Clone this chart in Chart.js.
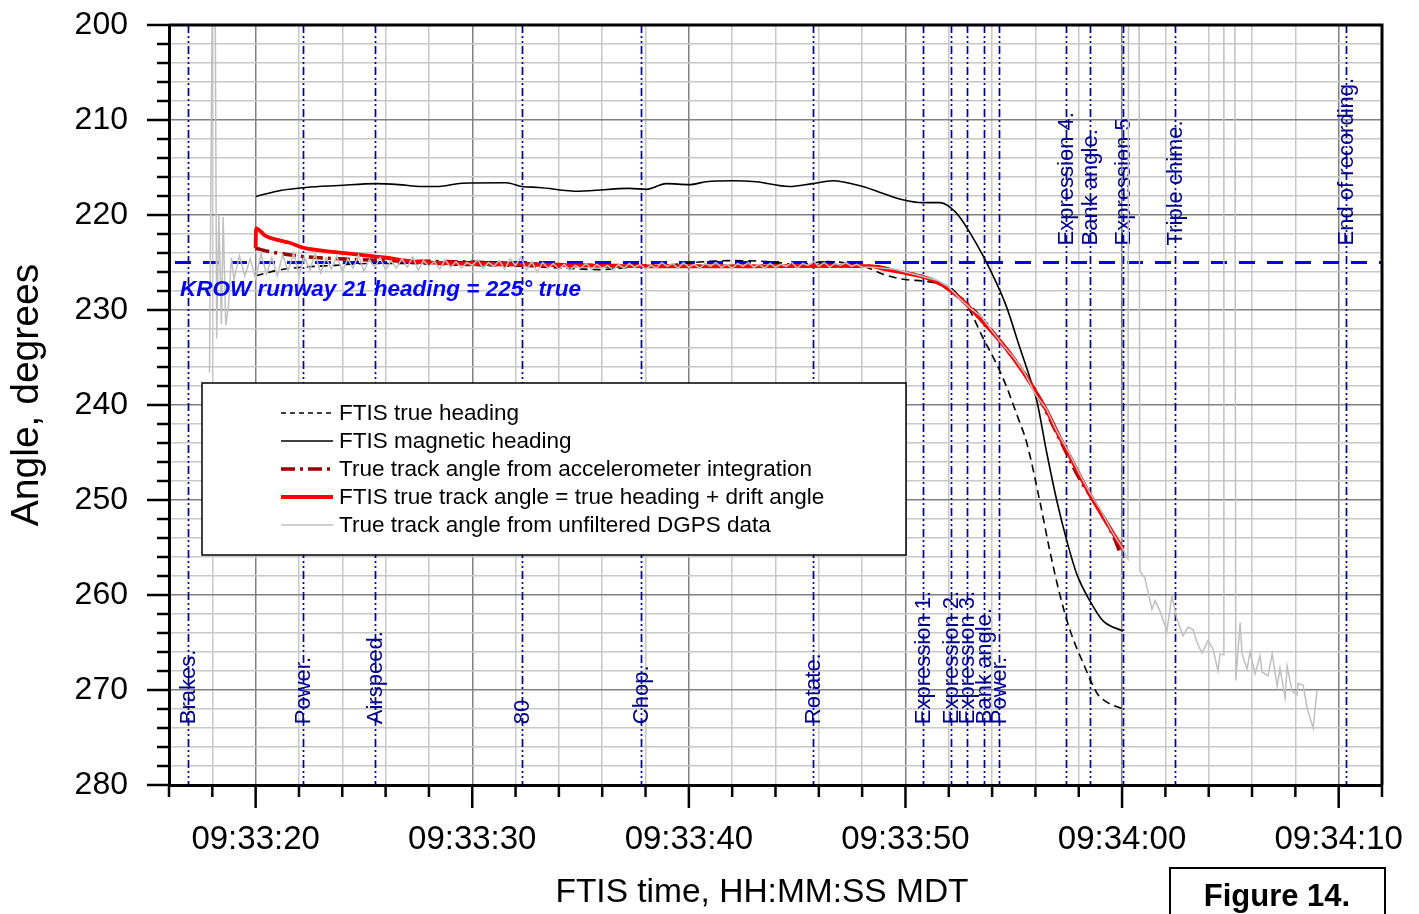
<!DOCTYPE html>
<html>
<head>
<meta charset="utf-8">
<title>Heading and track angle</title>
<script src="https://cdn.jsdelivr.net/npm/chart.js@4.4.1/dist/chart.umd.min.js"></script>
<style>
    html, body { margin: 0; padding: 0; background: #fff; }
    #wrap { width: 1419px; height: 914px; }
</style>
</head>
<body>
<div id="wrap"><canvas id="chart" width="1419" height="914"></canvas></div>
<script>
// Time is in seconds after 09:33:00 MDT, angles in degrees

const trueHeadingTime = [20.0, 21.06, 22.13, 23.7, 25.22, 26.61, 29.71, 32.3, 34.33, 35.86, 37.38, 38.95, 40.48, 42.0, 43.57, 45.1, 46.35, 47.41, 48.2, 48.94, 49.73, 51.12, 52.04, 52.5, 52.96, 53.56, 54.21, 54.67, 55.14, 55.6, 56.2, 56.66, 57.12, 57.61, 58.21, 58.86, 59.32, 60.04];
const trueHeading = [226.4, 225.8, 225.5, 225.3, 225.1, 225.1, 225.3, 225.4, 225.6, 225.75, 225.5, 225.3, 224.95, 224.8, 224.9, 225.2, 224.9, 225.1, 225.5, 226.2, 226.7, 227.05, 227.6, 228.6, 230.0, 232.85, 235.7, 238.1, 241.0, 244.0, 250.1, 255.3, 259.9, 263.8, 267.2, 270.4, 271.3, 272.0];

const magTime = [20.0, 21.2, 22.31, 23.84, 25.55, 26.61, 27.67, 28.46, 29.52, 31.56, 32.3, 33.08, 34.93, 37.24, 38.03, 38.95, 40.02, 40.8, 42.0, 43.11, 44.64, 45.7, 46.63, 48.02, 48.8, 49.87, 50.79, 51.58, 52.04, 52.5, 52.96, 53.56, 54.21, 54.67, 55.27, 55.74, 56.06, 56.52, 56.99, 57.45, 57.91, 58.51, 59.11, 60.04];
const magHeading = [218.05, 217.4, 217.1, 216.9, 216.7, 216.8, 217.0, 217.0, 216.65, 216.6, 217.0, 217.1, 217.5, 217.2, 217.3, 216.7, 216.8, 216.5, 216.4, 216.5, 217.0, 216.7, 216.4, 217.0, 217.6, 218.4, 218.7, 218.7, 219.15, 220.2, 221.8, 224.2, 227.2, 229.7, 233.9, 237.1, 239.5, 245.0, 250.1, 254.3, 257.8, 260.6, 262.7, 263.8];

const accelTime = [20.0, 20.74, 22.3, 23.8, 26.1, 30.0, 32.0, 36.0, 42.0, 48.5, 49.7, 50.8, 52.0, 53.4, 54.2, 55.9, 57.1, 58.0, 58.8, 59.6, 59.95];
const accelTrack = [223.5, 223.9, 224.4, 224.6, 224.8, 224.95, 225.1, 225.3, 225.4, 225.4, 225.95, 226.5, 227.8, 230.6, 232.8, 238.1, 243.5, 247.6, 250.5, 253.8, 255.8];

const trackTime = [20.0, 20.02, 20.46, 21.06, 21.53, 22.13, 23.05, 24.44, 26.01, 27.07, 28.46, 31.56, 34.5, 38.2, 42.8, 46.5, 48.5, 48.94, 49.73, 50.79, 51.58, 52.04, 52.64, 53.43, 54.21, 54.95, 55.88, 56.52, 57.12, 57.45, 58.51, 60.04];
const trackAngle = [223.5, 221.4, 222.2, 222.65, 222.9, 223.4, 223.75, 224.1, 224.5, 224.85, 225.05, 225.2, 225.3, 225.4, 225.4, 225.35, 225.4, 225.65, 226.0, 226.5, 227.2, 227.9, 229.0, 230.9, 232.85, 234.96, 238.1, 240.6, 243.4, 244.8, 249.4, 255.2];

// unfiltered DGPS track: dropouts read as 190 (off the top of the scale)
const dgpsTime = [17.87, 18.02, 18.12, 18.2, 18.3, 18.42, 18.5, 18.62, 18.75, 18.88,
    19.0, 19.25, 19.5, 19.75, 20.0, 20.25, 20.5, 20.75, 21.0, 21.25, 21.5, 21.75, 22.0, 22.25, 22.5, 22.75,
    23.0, 23.25, 23.5, 23.75, 24.0, 24.25, 24.5, 24.75, 25.0, 25.25, 25.5, 25.75, 26.0, 26.25, 26.5, 26.75,
    27.0, 27.25, 27.5, 27.75, 28.0, 28.25, 28.5, 28.75, 29.0, 29.25, 29.5, 29.75, 30.0, 30.25, 30.5, 30.75,
    31.0, 31.25, 31.5, 31.75, 32.0, 32.25, 32.5, 32.75, 33.0, 33.25, 33.5, 33.75, 34.0, 34.25, 34.5, 34.75,
    35.0, 35.25, 35.5, 35.75, 36.0, 36.25, 36.5, 36.75, 37.0, 37.25, 37.5, 37.75, 38.0, 38.25, 38.5, 38.75,
    39.0, 39.25, 39.5, 39.75, 40.0, 40.25, 40.5, 40.75, 41.0, 41.25, 41.5, 41.75, 42.0, 42.25, 42.5, 42.75,
    43.0, 43.25, 43.5, 43.75, 44.0, 44.25, 44.5, 44.75, 45.0, 45.25, 45.5, 45.75, 46.0, 46.25, 46.5, 46.75,
    47.0, 47.25, 47.5, 47.75, 48.0,
    48.5, 49.0, 49.5, 50.0, 50.5, 51.0, 51.5, 52.0, 52.5, 53.0, 53.5, 54.0, 54.5, 55.0, 55.5, 56.0, 56.5,
    57.0, 57.5, 58.0, 58.5, 59.0, 59.5, 60.0, 60.27, 60.3, 60.78, 60.82,
    61.05, 61.38, 61.52, 61.75, 62.07, 62.3, 62.53, 62.81, 63.04, 63.27, 63.46, 63.69, 63.97, 64.2, 64.43,
    64.52, 64.66, 64.7, 65.2, 65.25, 65.45, 65.54, 65.77, 65.91, 66.14, 66.37, 66.46, 66.74, 66.93, 67.16,
    67.29, 67.53, 67.62, 67.85, 68.08, 68.13, 68.36, 68.54, 68.82, 69.0];
const dgpsTrack = [236.6, 190, 190, 233.0, 220.0, 231.5, 220.2, 231.6, 229.5, 224.5,
    226.8, 224.3, 226.4, 224.6, 226.7, 224.1, 226.2, 224.5, 226.4, 224.2, 225.9, 224.0, 226.3, 224.4, 225.8, 224.1,
    226.1, 224.5, 225.7, 224.3, 226.0, 224.6, 225.6, 224.2, 225.9, 224.7, 225.5, 224.5, 225.8, 224.8, 225.6, 224.6,
    225.5, 224.4, 225.8, 224.8, 225.4, 224.9, 225.7, 224.7, 225.5, 224.9, 225.6, 225.0, 225.3, 224.7, 225.6, 225.0,
    225.4, 224.8, 225.7, 224.6, 225.3, 224.4, 225.8, 224.9, 226.0, 225.0, 225.6, 225.1, 225.7, 225.2, 225.8, 225.3,
    225.6, 225.1, 225.7, 225.2, 225.6, 225.3, 225.8, 225.2, 225.6, 225.1, 225.5, 225.2, 225.7, 225.3, 225.6, 225.0,
    225.4, 225.1, 225.6, 225.0, 225.5, 225.2, 225.6, 225.1, 225.4, 225.0, 225.5, 225.2, 225.6, 225.1, 225.4, 225.0,
    225.5, 225.2, 225.6, 225.1, 225.5, 225.2, 225.4, 225.0, 225.6, 225.1, 225.3, 224.9, 225.4, 225.0, 225.5, 225.1,
    225.3, 225.0, 225.4, 225.2, 225.5,
    225.5, 225.6, 225.7, 226.0, 226.3, 226.6, 226.9, 227.6, 228.8, 229.8, 230.7, 232.2, 233.7, 235.0, 236.6, 238.9, 240.4,
    242.8, 244.8, 247.1, 249.2, 251.0, 253.2, 255.0, 256.2, 190, 190, 257.5,
    258.2, 261.5, 260.6, 261.7, 263.8, 260.1, 262.5, 264.3, 263.4, 263.6, 265.0, 266.1, 264.8, 265.7, 268.0,
    266.2, 266.3, 190, 190, 269.0, 262.9, 266.2, 267.8, 266.0, 268.3, 266.4, 268.1, 268.5, 266.2, 269.6,
    267.7, 270.8, 267.5, 270.1, 270.5, 269.3, 269.5, 271.9, 274.0, 270.1];

const eventTimes = [16.87, 22.19, 25.5, 32.28, 37.8, 45.72, 50.8, 52.11, 52.84, 53.62, 54.32, 57.4, 58.51, 60.02, 62.43, 70.33];
const eventLabels = ['Brakes.', 'Power.', 'Airspeed.', '80', 'Chop.', 'Rotate.', 'Expression 1.', 'Expression 2.', 'Expression 3.', 'Bank angle.', 'Power.', 'Expression 4.', 'Bank angle.', 'Expression 5', 'Triple chime.', 'End of recording.'];
const upperLabels = [11, 12, 13, 14, 15];

const runwayHeading = 225;
const runwayText = 'KROW runway 21 heading = 225\u00b0 true';

const FONT = "'Liberation Sans', Arial, Helvetica, sans-serif";

function pts(xs, ys) {
    return xs.map((t, i) => ({ x: t, y: ys[i] }));
}

function clock(sec) {
    const s = Math.round(sec);
    const m = 33 + Math.floor(s / 60);
    const ss = s % 60;
    return '09:' + String(m).padStart(2, '0') + ':' + String(ss).padStart(2, '0');
}

const isMajor = v => Math.round(v) % 10 === 0;

const overlay = {
    id: 'overlay',
    beforeDatasetsDraw(chart) {
        const { ctx, chartArea: a, scales: { x, y } } = chart;
        ctx.save();
        ctx.beginPath();
        ctx.rect(a.left, a.top, a.right - a.left, a.bottom - a.top);
        ctx.clip();

        // runway heading reference
        const yr = y.getPixelForValue(runwayHeading);
        ctx.strokeStyle = '#0000ff';
        ctx.lineWidth = 3;
        ctx.setLineDash([16, 12]);
        ctx.beginPath();
        ctx.moveTo(a.left + 6, yr);
        ctx.lineTo(a.right, yr);
        ctx.stroke();

        // CVR event markers
        ctx.strokeStyle = '#00008b';
        ctx.lineWidth = 1.7;
        ctx.setLineDash([8, 3, 2, 3, 2, 3]);
        eventTimes.forEach(t => {
            const px = Math.round(x.getPixelForValue(t)) + 0.5;
            ctx.beginPath();
            ctx.moveTo(px, a.top);
            ctx.lineTo(px, a.bottom);
            ctx.stroke();
        });
        ctx.setLineDash([]);

        ctx.fillStyle = '#00008b';
        ctx.font = '22px ' + FONT;
        ctx.textAlign = 'left';
        ctx.textBaseline = 'middle';
        eventTimes.forEach((t, i) => {
            const px = x.getPixelForValue(t);
            const py = y.getPixelForValue(upperLabels.includes(i) ? 223.2 : 273.6);
            ctx.save();
            ctx.translate(px, py);
            ctx.rotate(-Math.PI / 2);
            ctx.fillText(eventLabels[i], 0, 1);
            ctx.restore();
        });
        ctx.restore();
    },
    afterDatasetsDraw(chart) {
        const { ctx, chartArea: a, scales: { x, y } } = chart;
        ctx.save();

        ctx.fillStyle = '#0000ff';
        ctx.font = 'italic bold 22.5px ' + FONT;
        ctx.textAlign = 'left';
        ctx.textBaseline = 'alphabetic';
        ctx.fillText(runwayText, 180, 296);

        // frame and tick marks
        ctx.strokeStyle = '#000';
        ctx.lineWidth = 3;
        ctx.beginPath();
        ctx.moveTo(a.left, a.top);
        ctx.lineTo(a.right, a.top);
        ctx.lineTo(a.right, a.bottom);
        ctx.stroke();

        ctx.lineWidth = 2.5;
        y.ticks.forEach(tk => {
            const py = y.getPixelForValue(tk.value);
            const len = isMajor(tk.value) ? 22 : 12;
            ctx.beginPath();
            ctx.moveTo(a.left - len, py);
            ctx.lineTo(a.left, py);
            ctx.stroke();
        });
        x.ticks.forEach(tk => {
            const px = x.getPixelForValue(tk.value);
            const len = isMajor(tk.value) ? 23 : 12;
            ctx.beginPath();
            ctx.moveTo(px, a.bottom);
            ctx.lineTo(px, a.bottom + len);
            ctx.stroke();
        });

        // legend box
        const lx = 202, ly = 383, lw = 704, lh = 172;
        ctx.fillStyle = '#fff';
        ctx.fillRect(lx, ly, lw, lh);
        ctx.lineWidth = 1.5;
        ctx.strokeStyle = '#000';
        ctx.strokeRect(lx, ly, lw, lh);
        ctx.font = '22.5px ' + FONT;
        ctx.textBaseline = 'middle';
        chart.data.datasets.forEach((ds, i) => {
            const ry = 413 + 28 * i;
            ctx.strokeStyle = ds.borderColor;
            ctx.lineWidth = ds.borderWidth;
            ctx.setLineDash(ds.legendDash || []);
            ctx.beginPath();
            ctx.moveTo(281, ry);
            ctx.lineTo(333, ry);
            ctx.stroke();
            ctx.setLineDash([]);
            ctx.fillStyle = '#000';
            ctx.fillText(ds.label, 339, ry + 1);
        });
        ctx.restore();
    },
    afterDraw(chart) {
        const { ctx } = chart;
        ctx.save();
        ctx.fillStyle = '#000';
        ctx.textAlign = 'center';
        ctx.textBaseline = 'middle';

        ctx.font = '33.5px ' + FONT;
        ctx.fillText('FTIS time, HH:MM:SS MDT', 762, 893);

        ctx.save();
        ctx.translate(27, 395);
        ctx.rotate(-Math.PI / 2);
        ctx.font = '39px ' + FONT;
        ctx.fillText('Angle, degrees', 0, 0);
        ctx.restore();

        ctx.strokeStyle = '#000';
        ctx.lineWidth = 2;
        ctx.strokeRect(1170, 868, 215, 60);
        ctx.font = 'bold 31px ' + FONT;
        ctx.fillText('Figure 14.', 1277, 897);
        ctx.restore();
    }
};

const gridColor = c => isMajor(c.tick.value) ? '#808080' : '#c8c8c8';

new Chart(document.getElementById('chart'), {
    type: 'line',
    data: {
        datasets: [
            {
                label: 'FTIS true heading',
                data: pts(trueHeadingTime, trueHeading),
                borderColor: '#000',
                borderWidth: 1.6,
                borderDash: [8, 5],
                legendDash: [5, 4],
                cubicInterpolationMode: 'monotone',
                order: 3
            },
            {
                label: 'FTIS magnetic heading',
                data: pts(magTime, magHeading),
                borderColor: '#000',
                borderWidth: 1.6,
                cubicInterpolationMode: 'monotone',
                order: 4
            },
            {
                label: 'True track angle from accelerometer integration',
                data: pts(accelTime, accelTrack),
                borderColor: '#990000',
                borderWidth: 3.5,
                borderDash: [14, 5, 3, 5],
                legendDash: [14, 5, 3, 5],
                cubicInterpolationMode: 'monotone',
                order: 2
            },
            {
                label: 'FTIS true track angle = true heading + drift angle',
                data: pts(trackTime, trackAngle),
                borderColor: '#ff0000',
                borderWidth: 3.8,
                cubicInterpolationMode: 'monotone',
                order: 1
            },
            {
                label: 'True track angle from unfiltered DGPS data',
                data: pts(dgpsTime, dgpsTrack),
                borderColor: '#c0c0c0',
                borderWidth: 1.5,
                tension: 0,
                order: 0
            }
        ]
    },
    options: {
        responsive: false,
        animation: false,
        devicePixelRatio: 1,
        layout: { padding: { top: 25, right: 37, left: 0, bottom: 0 } },
        elements: { point: { radius: 0 } },
        plugins: {
            legend: { display: false },
            tooltip: { enabled: false }
        },
        scales: {
            x: {
                type: 'linear',
                min: 16,
                max: 72,
                ticks: {
                    stepSize: 2,
                    autoSkip: false,
                    maxRotation: 0,
                    padding: 4,
                    color: '#000',
                    font: { family: FONT, size: 33 },
                    callback: v => isMajor(v) ? clock(v) : ''
                },
                grid: { color: gridColor, lineWidth: 1.5, drawTicks: true, tickLength: 31, tickColor: 'rgba(0,0,0,0)' },
                border: { color: '#000', width: 3 },
                afterFit: s => { s.height = 129; }
            },
            y: {
                type: 'linear',
                reverse: true,
                min: 200,
                max: 280,
                ticks: {
                    stepSize: 2,
                    autoSkip: false,
                    padding: 4,
                    color: '#000',
                    font: { family: FONT, size: 32 },
                    callback: v => isMajor(v) ? v : ''
                },
                grid: { color: gridColor, lineWidth: 1.5, drawTicks: true, tickLength: 37, tickColor: 'rgba(0,0,0,0)' },
                border: { color: '#000', width: 3 },
                afterFit: s => { s.width = 169; }
            }
        }
    },
    plugins: [overlay]
});
</script>
</body>
</html>
